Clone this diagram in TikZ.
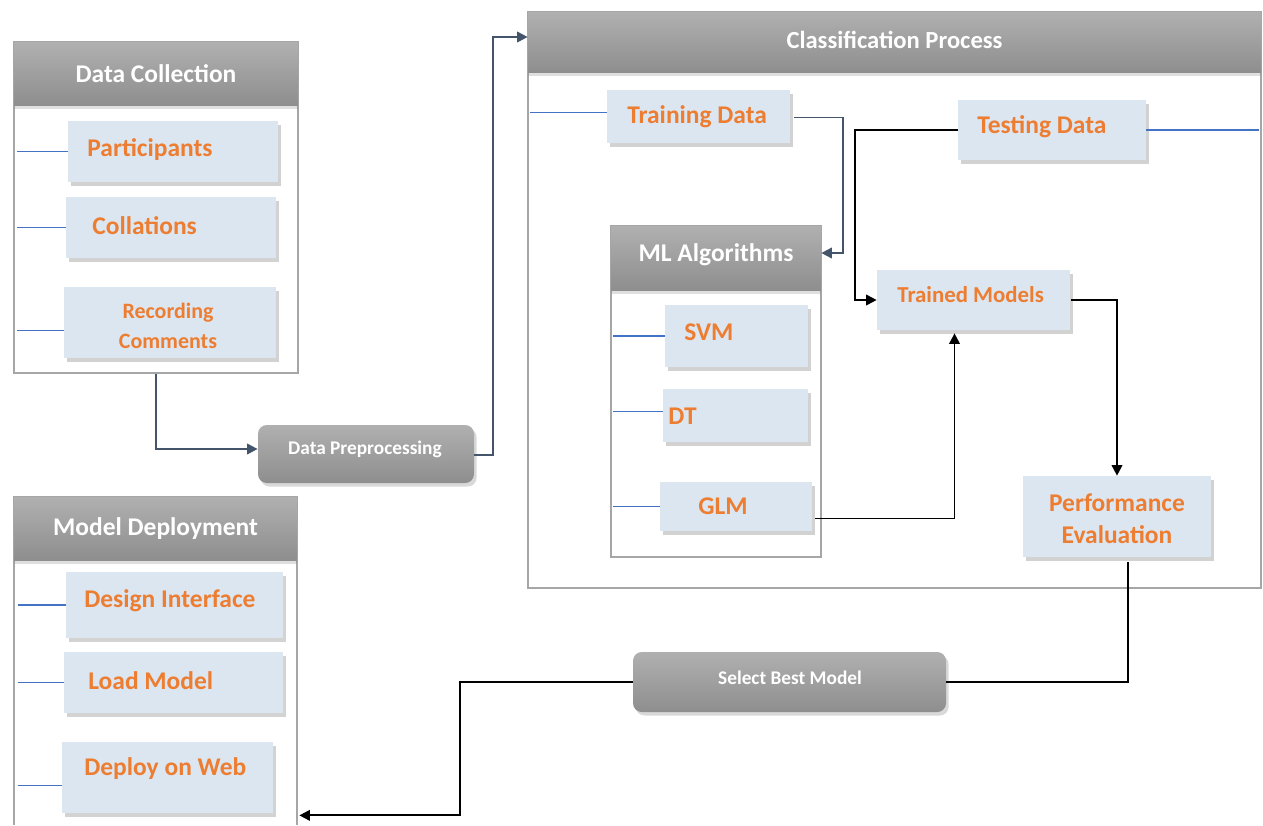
\documentclass[tikz,border=0pt]{standalone}
\usepackage{fontspec}
\setmainfont{Carlito}
\usetikzlibrary{fit,shadows,arrows.meta,calc}
\definecolor{boxblue}{HTML}{DCE6F1}
\definecolor{orng}{HTML}{ED7D31}
\definecolor{framegray}{HTML}{A6A6A6}
\definecolor{slate}{HTML}{44546A}
\definecolor{sideblue}{HTML}{4472C4}
\definecolor{headtop}{HTML}{B0B0B0}
\definecolor{headbot}{HTML}{8E8E8E}
\begin{document}
\begin{tikzpicture}[x=0.02cm,y=-0.02cm,
  frm/.style={draw=framegray, line width=1.3pt, fill=white, inner sep=0},
  framel/.style={draw=framegray, line width=1.3pt},
  head/.style={inner sep=0, top color=headtop, bottom color=headbot,
     drop shadow={shadow xshift=0pt, shadow yshift=-2pt, opacity=.25}},
  gbox/.style={inner sep=0, rounded corners=5pt, top color=headtop, bottom color=headbot,
     drop shadow={shadow xshift=1.5pt, shadow yshift=-2pt, opacity=.3}},
  box/.style={inner sep=0, fill=boxblue,
     drop shadow={shadow xshift=1.5pt, shadow yshift=-2pt, opacity=.35}},
  otxt/.style={font=\bfseries\fontsize{14.5}{16}\selectfont, text=orng, inner sep=0},
  wtxt/.style={font=\bfseries\fontsize{14.5}{16}\selectfont, text=white, inner sep=0},
  stxt/.style={font=\bfseries\fontsize{11}{13}\selectfont, text=white, inner sep=0},
  side/.style={draw=sideblue, line width=0.9pt},
  arr/.style={-{Triangle[length=6pt,width=6pt]}, line width=1.1pt},
  plain/.style={line width=1.1pt}
]
\useasboundingbox (0,0) rectangle (1263,825);

% ---------- Data Collection ----------
\node[frm, fit={(14,42)(298,373)}] (dc) {};
\node[head, fit={(14,42)(298,105)}] (dch) {};
\node[wtxt] (dct) at (dch.center) {Data Collection};
\node[box, fit={(68,121)(278,182)}] (part) {};
\node[otxt, anchor=west] (partt) at (87,150) {Participants};
\node[box, fit={(66,197)(276,258)}] (coll) {};
\node[otxt, anchor=west] (collt) at (92,226) {Collations};
\node[box, fit={(64,287)(276,358)}] (rec) {};
\node[otxt, align=center, font=\bfseries\fontsize{12.5}{17}\selectfont] (rect) at (168,326) {Recording\\Comments};
\draw[side] ($(dc.west |- part.west)+(4,0)$) -- (part.west);
\draw[side] ($(dc.west |- coll.west)+(4,0)$) -- (coll.west);
\coordinate (recl) at ($(rec.west)+(0,8)$);
\draw[side] ($(dc.west |- recl)+(4,0)$) -- (recl);

% ---------- Model Deployment ----------
\node[fit={(14,497)(297,825)}, inner sep=0] (md) {};
\draw[framel] (md.south west) |- (md.north east) -- (md.south east);
\node[head, fit={(14,497)(297,560)}] (mdh) {};
\node[wtxt] (mdt) at (mdh.center) {Model Deployment};
\node[box, fit={(66,572)(283,638)}] (di) {};
\node[otxt, anchor=west] (dit) at (84,601) {Design Interface};
\node[box, fit={(64,652)(283,713)}] (lm) {};
\node[otxt, anchor=west] (lmt) at (88,681) {Load Model};
\node[box, fit={(62,742)(273,813)}] (dw) {};
\node[otxt, anchor=west] (dwt) at (84,769) {Deploy on Web};
\draw[side] ($(md.west |- di.west)+(4,0)$) -- (di.west);
\draw[side] ($(md.west |- lm.west)+(4,0)$) -- (lm.west);
\coordinate (dwl) at ($(dw.west)+(0,8)$);
\draw[side] ($(md.west |- dwl)+(4,0)$) -- (dwl);

% ---------- Classification Process ----------
\node[frm, fit={(528,12)(1261,588)}] (cp) {};
\node[head, fit={(528,12)(1261,72)}] (cph) {};
\node[wtxt, font=\bfseries\fontsize{14}{16}\selectfont] (cpt) at ($(cph.center)+(0,-2)$) {Classification Process};
\node[box, fit={(607,90)(790,143)}] (td) {};
\node[otxt, anchor=west] (tdt) at (627,117) {Training Data};
\node[box, fit={(958,100)(1146,160)}] (tsd) {};
\node[otxt, anchor=west] (tsdt) at (977,127) {Testing Data};
\coordinate (tdl) at ($(td.west)+(0,-4)$);
\draw[side] ($(cp.west |- tdl)+(3,0)$) -- (tdl);
\draw[side] (tsd.east) -- ($(cp.east |- tsd.east)+(-3,0)$);

% ML Algorithms
\node[frm, fit={(611,226)(821,557)}] (ml) {};
\node[head, fit={(611,226)(821,290)}] (mlh) {};
\node[wtxt] (mlt) at ($(mlh.center)+(0,-3)$) {ML Algorithms};
\node[box, fit={(665,305)(808,367)}] (svm) {};
\node[otxt, anchor=west] (svmt) at (684,332) {SVM};
\node[box, fit={(663,389)(808,442)}] (dt) {};
\node[otxt, anchor=west] (dtt) at (668,416) {DT};
\node[box, fit={(660,482)(812,531)}] (glm) {};
\node[otxt, anchor=west] (glmt) at (698,506) {GLM};
\draw[side] ($(ml.west |- svm.west)+(3,0)$) -- (svm.west);
\coordinate (dtl) at ($(dt.west)+(0,-4)$);
\draw[side] ($(ml.west |- dtl)+(3,0)$) -- (dtl);
\draw[side] ($(ml.west |- glm.west)+(3,0)$) -- (glm.west);

\node[box, fit={(877,270)(1070,330)}] (tm) {};
\node[otxt, anchor=west, font=\bfseries\fontsize{13}{15}\selectfont] (tmt) at (897,295) {Trained Models};
\node[box, fit={(1023,476)(1211,557)}] (pe) {};
\node[otxt, align=center, font=\bfseries\fontsize{14.5}{18}\selectfont] (pet) at (1117,519) {Performance\\Evaluation};

% ---------- gray process boxes ----------
\node[gbox, fit={(258,425)(474,483)}] (dp) {};
\node[stxt] (dpt) at (365,449) {Data Preprocessing};
\node[gbox, fit={(633,652)(946,712)}] (sbm) {};
\node[stxt] (sbmt) at (790,678) {Select Best Model};

% ---------- connectors ----------
\draw[arr, draw=slate] (dc.south) |- ($(dp.west)+(0,-5)$);
\draw[arr, draw=slate] ($(dp.east)+(0,1)$) -- ++(19,0) |- ($(cph.west)+(0,-5)$);
\draw[arr, draw=slate] ($(td.east)+(4,1)$) -- ++(49,0) |- ($(mlh.east)+(0,-5)$);
\draw[arr] (tsd.west) -- ++(-103,0) |- (tm.west);
\draw[arr] ($(glm.east)+(3,12)$) -| ($(tm.south)+(-19,3)$);
\draw[arr] ($(tm.east)+(1,0)$) -| (pe.north);
\draw[plain] ($(pe.south)+(11,5)$) |- (sbm.east);
\draw[arr] (sbm.west) -- ++(-173,0) |- ($(md.south east)+(2,-10)$);
\end{tikzpicture}
\end{document}
